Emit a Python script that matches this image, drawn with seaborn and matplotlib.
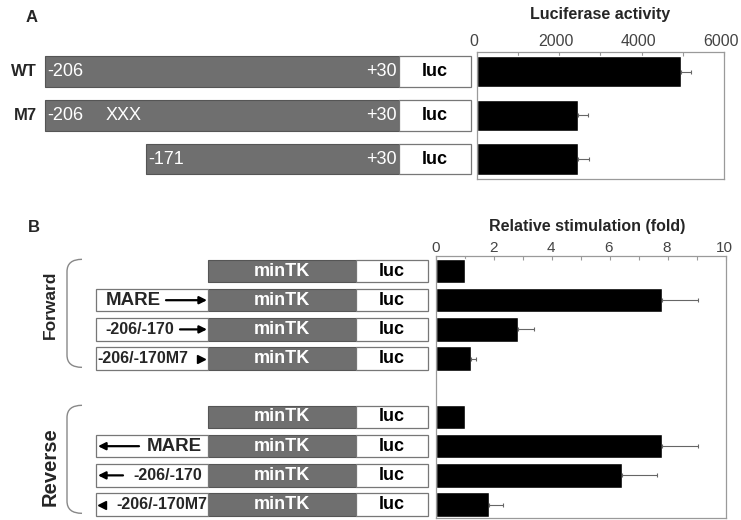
import matplotlib
matplotlib.use('Agg')
import matplotlib.pyplot as plt
import seaborn as sns
from matplotlib.patches import Rectangle, PathPatch
from matplotlib.path import Path
from matplotlib.transforms import ScaledTranslation

# Panel A: promoter constructs and luciferase activity
a_constructs = ['WT', 'M7', '-171']
a_activity = [4950, 2450, 2460]
a_error = [245, 245, 265]
a_ticks = [0, 2000, 4000, 6000]

# Panel B: MARE / promoter fragments in front of minTK, fold stimulation
b_constructs = ['minTK F', 'MARE F', '-206/-170 F', '-206/-170M7 F',
                'minTK R', 'MARE R', '-206/-170 R', '-206/-170M7 R']
b_inserts = ['', 'MARE', '-206/-170', '-206/-170M7',
             '', 'MARE', '-206/-170', '-206/-170M7']
b_direction = ['', 'forward', 'forward', 'forward',
               '', 'reverse', 'reverse', 'reverse']
b_fold = [1.0, 7.8, 2.82, 1.19, 1.0, 7.8, 6.42, 1.82]
b_error = [0, 1.25, 0.55, 0.18, 0, 1.25, 1.21, 0.48]
b_ticks = [0, 2, 4, 6, 8, 10]
b_groups = ['Forward', 'Reverse']

sns.set_style('white')
plt.rcParams['font.family'] = ['Liberation Sans', 'DejaVu Sans']

W, H = 741, 520
fig = plt.figure(figsize=(W / 100, H / 100), dpi=100)


def px_rect(x0, y0, x1, y1):
    return [x0 / W, 1 - y1 / H, (x1 - x0) / W, (y1 - y0) / H]


GRAY = '#6f6f6f'
SPINE = '#9a9a9a'


def style_bar_axes(ax, ticks, minor, size, pad, shift):
    ax.xaxis.tick_top()
    ax.set_xticks(ticks)
    ax.set_xticks(minor, minor=True)
    ax.tick_params(axis='x', which='both', direction='in', length=3, width=0.8,
                   color=SPINE, labelsize=size, labelcolor='#444', pad=pad,
                   top=True, bottom=False)
    ax.set_yticks([])
    ax.set_xlabel('')
    ax.set_ylabel('')
    for t in ax.xaxis.get_major_ticks():
        t.label2.set_transform(t.label2.get_transform() +
                               ScaledTranslation(shift / 100, 0, fig.dpi_scale_trans))
    for s in ax.spines.values():
        s.set_color(SPINE)
        s.set_linewidth(0.9)


def draw_errors(ax, values, pos, errs):
    keep = [i for i, e in enumerate(errs) if e > 0]
    ax.errorbar([values[i] for i in keep], [pos[i] for i in keep],
                xerr=[[0] * len(keep), [errs[i] for i in keep]], fmt='none',
                ecolor='#666', elinewidth=0.8, capsize=1.5, capthick=0.8)


# ---------------- Panel A ----------------
axA = fig.add_axes(px_rect(477, 52, 724, 179))
dA = fig.add_axes(px_rect(0, 52, 477, 179), sharey=axA)

sns.barplot(x=a_activity, y=a_constructs, order=a_constructs, orient='y',
            color='black', saturation=1, width=0.71, errorbar=None, ax=axA)
posA = list(range(len(a_constructs)))
draw_errors(axA, a_activity, posA, a_error)
axA.set_xlim(0, 6000)
axA.set_ylim(2.457, -0.446)
style_bar_axes(axA, a_ticks, [1000, 3000, 5000], 11.5, 2.5, -3)
axA.text(0.5, 1.299, 'Luciferase activity', transform=axA.transAxes,
         ha='center', va='center', fontsize=11.5, fontweight='bold')

dA.set_xlim(0, 477)
dA.axis('off')
a_start = [45, 45, 146]
h = 0.7
for i, name in enumerate(a_constructs):
    x0 = a_start[i]
    dA.add_patch(Rectangle((x0, i - h / 2), 399 - x0, h, facecolor=GRAY,
                           edgecolor='#555', lw=0.8))
    dA.add_patch(Rectangle((399, i - h / 2), 71.5, h, facecolor='white',
                           edgecolor='#777', lw=0.9))
    dA.text(x0 + 2, i, name if name.startswith('-') else '-206', color='white',
            fontsize=13, ha='left', va='center')
    dA.text(397, i, '+30', color='white', fontsize=13, ha='right', va='center')
    dA.text(435, i, 'luc', color='black', fontsize=13, fontweight='bold',
            ha='center', va='center')
    if not name.startswith('-'):
        dA.text(37, i, name, fontsize=12, fontweight='bold', ha='right', va='center')
    if name == 'M7':
        dA.text(106, i, 'XXX', color='white', fontsize=13, ha='left', va='center')

fig.text(32 / W, 1 - 18 / H, 'A', fontsize=12, fontweight='bold', ha='center', va='center')

# ---------------- Panel B ----------------
axB = fig.add_axes(px_rect(436.5, 256, 725.5, 518))
dB = fig.add_axes(px_rect(0, 256, 436.5, 518), sharey=axB)

order = b_constructs[:4] + [' '] + b_constructs[4:]
sns.barplot(x=b_fold, y=b_constructs, order=order, orient='y',
            color='black', saturation=1, width=0.84, errorbar=None, ax=axB)
posB = [order.index(c) for c in b_constructs]
draw_errors(axB, b_fold, posB, b_error)
axB.set_xlim(0, 10)
axB.set_ylim(8.46, -0.514)
style_bar_axes(axB, b_ticks, [1, 3, 5, 7, 9], 11, 0.5, -1)
axB.text(0.52, 1.1145, 'Relative stimulation (fold)', transform=axB.transAxes,
         ha='center', va='center', fontsize=11.5, fontweight='bold')

dB.set_xlim(0, 436.5)
dB.axis('off')
h = 0.77
for y, ins, d in zip(posB, b_inserts, b_direction):
    dB.add_patch(Rectangle((208, y - h / 2), 148, h, facecolor=GRAY,
                           edgecolor='#555', lw=0.8))
    dB.add_patch(Rectangle((356, y - h / 2), 72, h, facecolor='white',
                           edgecolor='#777', lw=0.9))
    dB.text(282, y, 'minTK', color='white', fontsize=13, fontweight='bold',
            ha='center', va='center')
    dB.text(392, y, 'luc', color='black', fontsize=13, fontweight='bold',
            ha='center', va='center')
    if not ins:
        continue
    dB.add_patch(Rectangle((96, y - h / 2), 112, h, facecolor='white',
                           edgecolor='#777', lw=0.9))
    fs = 13.5 if ins == 'MARE' else 11.5
    arrow = dict(arrowstyle='-|>', lw=1.6, color='black', mutation_scale=11,
                 shrinkA=0, shrinkB=0)
    if d == 'forward':
        if ins.endswith('M7'):
            dB.text(97, y, ins, fontsize=fs, fontweight='bold', ha='left', va='center')
            dB.plot(201, y, marker='>', ms=6, color='black')
        else:
            dB.text(106 if ins == 'MARE' else 105, y, ins, fontsize=fs,
                    fontweight='bold', ha='left', va='center')
            tail = 166 if ins == 'MARE' else 180
            dB.annotate('', xy=(207, y), xytext=(tail, y), arrowprops=arrow)
    else:
        if ins.endswith('M7'):
            dB.text(207, y, ins, fontsize=fs, fontweight='bold', ha='right', va='center')
            dB.plot(102, y, marker='<', ms=6, color='black')
        else:
            dB.text(202, y, ins, fontsize=fs, fontweight='bold', ha='right', va='center')
            tail = 139 if ins == 'MARE' else 123
            dB.annotate('', xy=(98, y), xytext=(tail, y), arrowprops=arrow)

# group brackets and labels
group_rows = [posB[:4], posB[4:]]
label_y = [1.15, 6.7]
label_size = [12.5, 14.5]
for rows, name, ly, fs in zip(group_rows, b_groups, label_y, label_size):
    t, b = rows[0] - 0.4, rows[-1] + 0.3
    xr, xl, r = 82, 67, 0.42
    verts = [(xr, t), (xl, t), (xl, t + r), (xl, b - r), (xl, b), (xr, b)]
    codes = [Path.MOVETO, Path.CURVE3, Path.CURVE3, Path.LINETO,
             Path.CURVE3, Path.CURVE3]
    dB.add_patch(PathPatch(Path(verts, codes), facecolor='none',
                           edgecolor='#888', lw=1.0))
    dB.text(50, ly, name, rotation=90, fontsize=fs, fontweight='bold',
            ha='center', va='center')

fig.text(34 / W, 1 - 227.5 / H, 'B', fontsize=12, fontweight='bold', ha='center', va='center')

fig.savefig('out.png', dpi=100)
